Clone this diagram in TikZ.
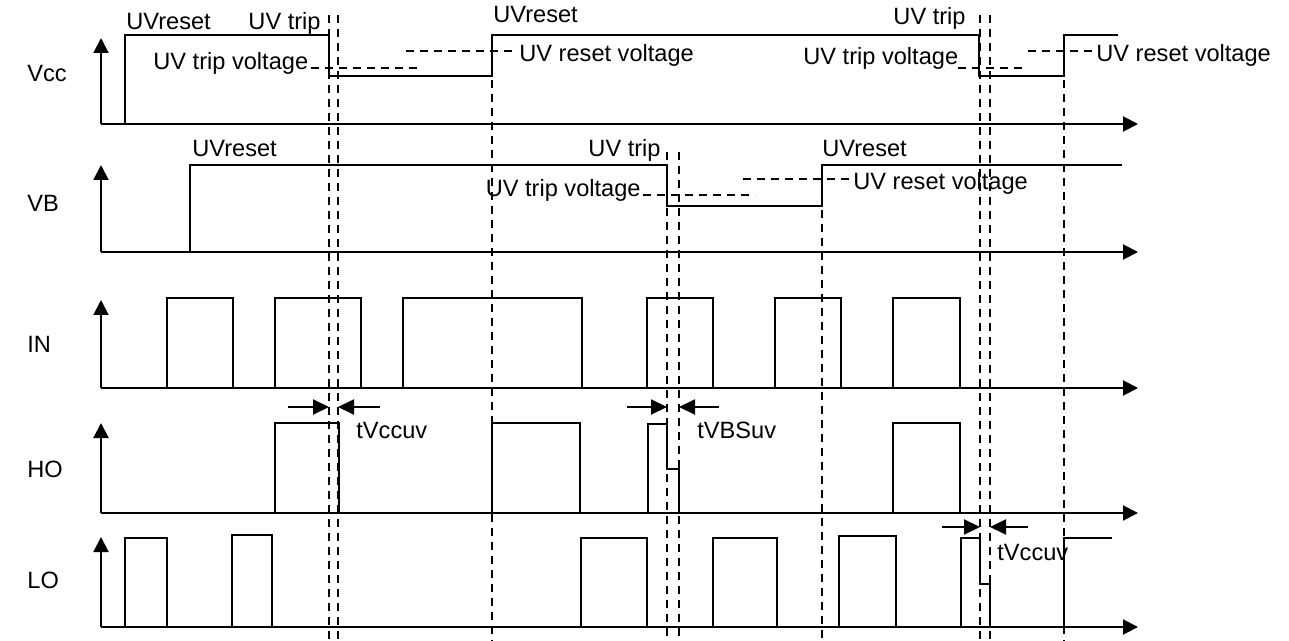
\documentclass[tikz,border=0pt]{standalone}
\usepackage{fontspec}
\setmainfont{Liberation Sans}
\usetikzlibrary{arrows.meta}
\begin{document}
\begin{tikzpicture}[x=0.5pt,y=-0.5pt,
  sig/.style={line width=1pt},
  dsh/.style={line width=0.8pt,dash pattern=on 4pt off 3pt},
  ax/.style={line width=1pt,-{Triangle[length=7.5pt,width=7.5pt]}},
  tm/.style={line width=1pt,-{Triangle[length=8pt,width=7.5pt]}},
  lbl/.style={font=\fontsize{11.8}{13.5}\selectfont,inner sep=0pt,anchor=base west},
  lble/.style={lbl,anchor=base east}]
\useasboundingbox (0,0) rectangle (1289,641);
% axes
\foreach \b/\t in {124/38,252/165,388/300,513/423,627/537}{
  \draw[ax] (101,\b) -- (101,\t);
  \draw[ax] (101,\b) -- (1138,\b);
}
% row labels
\node[lbl] (lvcc) at (27,82) {Vcc};
\node[lbl] (lvb) at (27,212) {VB};
\node[lbl] (lin) at (27,352) {IN};
\node[lbl] (lho) at (27,477) {HO};
\node[lbl] (llo) at (27,588) {LO};
% Vcc
\draw[sig] (125,124) -- (125,35) -- (329,35) -- (329,76) -- (492,76) -- (492,35) -- (979,35) -- (979,76) -- (1064,76) -- (1064,35) -- (1118,35);
\draw[dsh] (311,68) -- (418,68);
\draw[dsh] (406,51) -- (512,51);
\draw[dsh] (958,68) -- (1023,68);
\draw[dsh] (1028,51) -- (1093,51);
\node[lbl] (t1) at (126,30) {UVreset};
\node[lble] (t2) at (321,30) {UV trip};
\node[lbl] (t3) at (153,70) {UV trip voltage};
\node[lbl] (t4) at (493,23) {UVreset};
\node[lbl] (t5) at (519,62) {UV reset voltage};
\node[lbl] (t6) at (803,65) {UV trip voltage};
\node[lble] (t7) at (966,25) {UV trip};
\node[lbl] (t8) at (1096,62) {UV reset voltage};
% VB
\draw[sig] (190,252) -- (190,165) -- (667,165) -- (667,206) -- (822,206) -- (822,165) -- (1122,165);
\draw[dsh] (643,195) -- (755,195);
\draw[dsh] (743,179) -- (851,179);
\node[lbl] (v1) at (192,157) {UVreset};
\node[lble] (v2) at (661,157) {UV trip};
\node[lble] (v3) at (641,197) {UV trip voltage};
\node[lbl] (v4) at (822,157) {UVreset};
\node[lbl] (v5) at (853,190) {UV reset voltage};
% IN
\foreach \a/\b in {167/233,275/361,403/582,647/713,775/841,893/960}
  \draw[sig] (\a,388) -- (\a,298) -- (\b,298) -- (\b,388);
% HO
\foreach \a/\b in {275/339,492/580,893/960}
  \draw[sig] (\a,513) -- (\a,423) -- (\b,423) -- (\b,513);
\draw[sig] (648,513) -- (648,424) -- (667,424) -- (667,469) -- (679,469) -- (679,513);
% LO
\foreach \a/\b/\h in {125/167/538,232/272/535,581/647/538,713/777/538,839/896/536}
  \draw[sig] (\a,627) -- (\a,\h) -- (\b,\h) -- (\b,627);
\draw[sig] (961,627) -- (961,538) -- (980,538) -- (980,584) -- (990,584) -- (990,627);
\draw[sig] (1064,627) -- (1064,538) -- (1112,538);
% dashed time markers
\foreach \x/\s in {329/15,338/15,492/80,667/152,679/152,822/210,980/15,990/15,1064/80}
  \draw[dsh] (\x,\s) -- (\x,641);
% timing arrows
\draw[tm] (288,407) -- (329,407);
\draw[tm] (380,407) -- (338,407);
\node[lbl] (d1) at (356,438) {tVccuv};
\draw[tm] (627,407) -- (667,407);
\draw[tm] (719,407) -- (679,407);
\node[lbl] (d2) at (697,438) {tVBSuv};
\draw[tm] (942,527) -- (980,527);
\draw[tm] (1028,527) -- (990,527);
\node[lbl] (d3) at (997,560) {tVccuv};
\end{tikzpicture}
\end{document}
